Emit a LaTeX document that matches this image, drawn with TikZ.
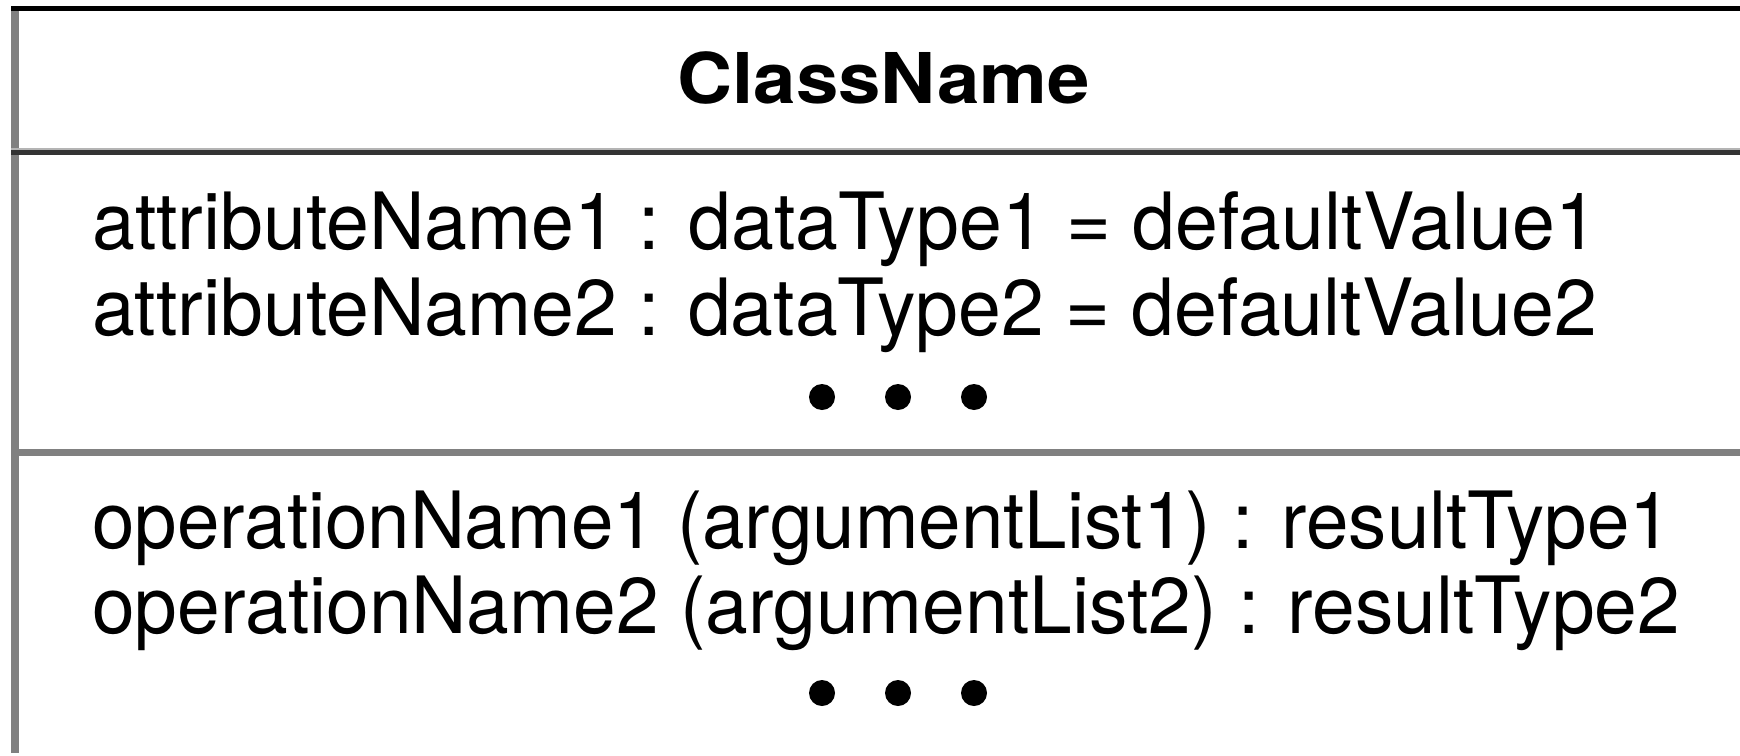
\documentclass[tikz,border=0pt]{standalone}
\usepackage{fontspec}
\setmainfont{TeX Gyre Heros}
\usepackage{graphicx}

% stretch a line of text to a given width, keeping its height
\newcommand\fitto[2]{\resizebox{#1pt}{\height}{#2}}

\definecolor{frameGray}{HTML}{808080}
\definecolor{ruleDark}{HTML}{333333}
\definecolor{ruleLight}{HTML}{B4B4B4}

\tikzset{
  member/.style={anchor=base west, inner sep=0pt, text=black,
                 font=\fontsize{79}{90}\selectfont},
  classtitle/.style={anchor=base, inner sep=0pt, text=black,
                 font=\fontsize{70}{80}\selectfont\bfseries},
  moredot/.style={circle, fill=black, draw=none, inner sep=0pt, minimum size=26pt},
  sidebar/.style={line width=8pt, draw=frameGray},
  toprule/.style={line width=5pt, draw=black},
  sectionrule/.style={line width=7pt, draw=frameGray},
}

\begin{document}
\begin{tikzpicture}[x=1pt, y=-1pt]
  \useasboundingbox[fill=white] (0,0) rectangle (1740,755);

  % frame: left side, top edge, compartment separators
  \coordinate (tl) at (15,6);
  \coordinate (bl) at (15,753);
  \draw[sidebar] (tl) -- (bl);
  \coordinate (topL) at (11,8.5);
  \coordinate (topR) at (1740,8.5);
  \draw[toprule] (topL) -- (topR);

  \coordinate (nameL) at (11,149);
  \coordinate (nameR) at (1740,149);
  \draw[line width=2pt, draw=ruleLight] (nameL) -- (nameR);
  \coordinate (nameL2) at (11,152.5);
  \coordinate (nameR2) at (1740,152.5);
  \draw[line width=5pt, draw=ruleDark] (nameL2) -- (nameR2);

  \coordinate (attrL) at (11,452);
  \coordinate (attrR) at (1740,452);
  \draw[sectionrule] (attrL) -- (attrR);

  % class name compartment
  \node[classtitle] (cname) at (883.5,103) {\fitto{412}{ClassName}};

  % attribute compartment
  \node[member] (attr1) at (92,249) {\fitto{1506}{attributeName1 : dataType1 = defaultValue1}};
  \node[member] (attr2) at (92,335) {\fitto{1505}{attributeName2 : dataType2 = defaultValue2}};
  \node[moredot] (ad1) at (822,397) {};
  \node[moredot] (ad2) at (898,397) {};
  \node[moredot] (ad3) at (974,397) {};

  % operation compartment
  \node[member] (op1) at (92,548) {\fitto{1580}{operationName1 (argumentList1) : resultType1}};
  \node[member] (op2) at (92,633) {\fitto{1588}{operationName2 (argumentList2) : resultType2}};
  \node[moredot] (od1) at (822,693) {};
  \node[moredot] (od2) at (898,693) {};
  \node[moredot] (od3) at (974,693) {};
\end{tikzpicture}
\end{document}
